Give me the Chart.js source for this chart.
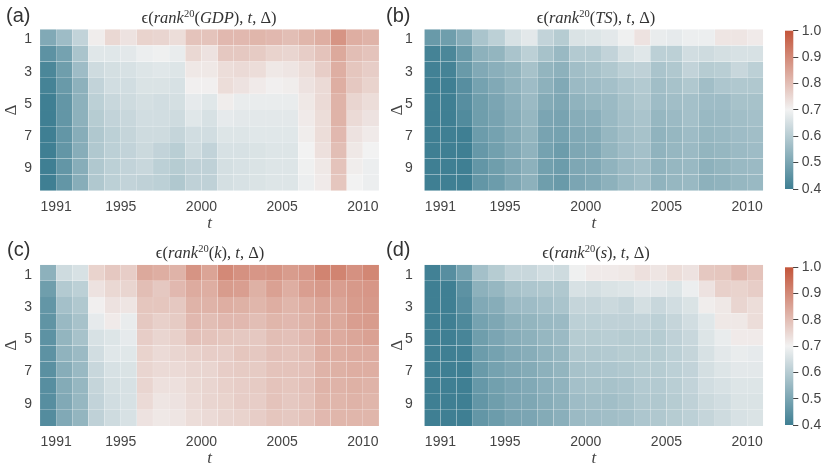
<!DOCTYPE html>
<html><head><meta charset="utf-8">
<script src="https://cdn.jsdelivr.net/npm/chart.js@4.4.0/dist/chart.umd.min.js"></script>
<style>
html,body{margin:0;padding:0;background:#fff;}
body{width:826px;height:467px;position:relative;overflow:hidden;font-family:"Liberation Sans",Arial,sans-serif;color:#262626;}
canvas{position:absolute;display:block;}
.lbl{position:absolute;font-size:20px;line-height:20px;color:#333;}
.ttl{position:absolute;font-family:"Liberation Serif","DejaVu Serif",serif;font-size:16.5px;line-height:16px;white-space:nowrap;transform:translateX(-50%);color:#333;}
.ttl i{font-style:italic;}
.ttl sup{font-size:10.5px;line-height:0;vertical-align:0;position:relative;top:-6px;}
</style></head><body>
<canvas id="cA" width="400" height="233" style="left:0;top:0"></canvas>
<canvas id="cB" width="400" height="233" style="left:384px;top:0"></canvas>
<canvas id="cC" width="400" height="234" style="left:0;top:233px"></canvas>
<canvas id="cD" width="400" height="234" style="left:384px;top:233px"></canvas>
<canvas id="cbTop" width="56" height="233" style="left:770px;top:0"></canvas>
<canvas id="cbBot" width="56" height="234" style="left:770px;top:233px"></canvas>

<div class="lbl" style="left:6px;top:5px">(a)</div>
<div class="lbl" style="left:386px;top:5px">(b)</div>
<div class="lbl" style="left:7px;top:239px">(c)</div>
<div class="lbl" style="left:386px;top:239px">(d)</div>

<div class="ttl" style="left:209px;top:9.5px">ϵ(<i>rank</i><sup>20</sup>(<i>GDP</i>), <i>t</i>, Δ)</div>
<div class="ttl" style="left:596px;top:9.5px">ϵ(<i>rank</i><sup>20</sup>(<i>TS</i>), <i>t</i>, Δ)</div>
<div class="ttl" style="left:210px;top:245px">ϵ(<i>rank</i><sup>20</sup>(<i>k</i>), <i>t</i>, Δ)</div>
<div class="ttl" style="left:596px;top:245px">ϵ(<i>rank</i><sup>20</sup>(<i>s</i>), <i>t</i>, Δ)</div>

<script>
// ---- data ----
const years = [1990,1991,1992,1993,1994,1995,1996,1997,1998,1999,2000,2001,2002,2003,2004,2005,2006,2007,2008,2009,2010];
const deltas = [1,2,3,4,5,6,7,8,9,10];
const xTickYears = [1991,1995,2000,2005,2010];
const yTickDeltas = [1,3,5,7,9];
const colorbarTicks = [0.4,0.5,0.6,0.7,0.8,0.9,1.0];

// rows = Δ 1..10, columns = years
const gdpValues = [
 [0.51,0.56,0.62,0.71,0.75,0.73,0.76,0.755,0.74,0.79,0.79,0.81,0.81,0.815,0.81,0.80,0.815,0.83,0.88,0.83,0.82],
 [0.45,0.49,0.58,0.67,0.67,0.675,0.69,0.695,0.685,0.75,0.73,0.78,0.78,0.775,0.76,0.755,0.77,0.79,0.84,0.80,0.79],
 [0.42,0.48,0.56,0.64,0.65,0.655,0.665,0.67,0.665,0.72,0.72,0.74,0.745,0.74,0.72,0.725,0.74,0.77,0.83,0.785,0.77],
 [0.41,0.47,0.53,0.62,0.645,0.645,0.66,0.66,0.655,0.705,0.705,0.74,0.73,0.715,0.705,0.71,0.73,0.745,0.83,0.78,0.76],
 [0.40,0.46,0.53,0.61,0.63,0.64,0.65,0.645,0.65,0.68,0.67,0.71,0.685,0.685,0.685,0.685,0.72,0.745,0.82,0.755,0.74],
 [0.40,0.46,0.53,0.60,0.62,0.63,0.645,0.645,0.64,0.67,0.655,0.68,0.675,0.675,0.675,0.675,0.715,0.74,0.82,0.745,0.73],
 [0.40,0.46,0.52,0.59,0.61,0.625,0.64,0.64,0.625,0.645,0.645,0.665,0.665,0.67,0.67,0.67,0.71,0.74,0.81,0.73,0.715],
 [0.40,0.46,0.52,0.59,0.61,0.62,0.635,0.62,0.605,0.64,0.62,0.655,0.655,0.66,0.665,0.665,0.70,0.735,0.80,0.72,0.70],
 [0.40,0.46,0.52,0.59,0.61,0.62,0.63,0.61,0.60,0.615,0.615,0.65,0.655,0.66,0.665,0.665,0.695,0.72,0.79,0.71,0.69],
 [0.40,0.46,0.52,0.59,0.61,0.62,0.615,0.61,0.59,0.615,0.615,0.65,0.655,0.66,0.665,0.665,0.69,0.715,0.785,0.70,0.69]
];
const tsValues = [
 [0.47,0.48,0.52,0.58,0.61,0.655,0.675,0.62,0.60,0.66,0.665,0.675,0.695,0.73,0.685,0.68,0.69,0.69,0.725,0.725,0.715],
 [0.41,0.42,0.47,0.53,0.54,0.58,0.61,0.575,0.55,0.595,0.595,0.62,0.655,0.67,0.61,0.61,0.645,0.64,0.65,0.655,0.655],
 [0.405,0.41,0.47,0.51,0.525,0.54,0.575,0.54,0.53,0.565,0.575,0.59,0.61,0.615,0.58,0.59,0.62,0.60,0.605,0.63,0.61],
 [0.40,0.40,0.44,0.49,0.51,0.535,0.56,0.53,0.51,0.555,0.56,0.57,0.585,0.595,0.565,0.575,0.59,0.565,0.585,0.59,0.59],
 [0.40,0.40,0.44,0.48,0.50,0.525,0.555,0.515,0.505,0.535,0.545,0.555,0.575,0.59,0.56,0.565,0.57,0.56,0.56,0.575,0.575],
 [0.40,0.40,0.43,0.48,0.495,0.52,0.545,0.50,0.495,0.52,0.525,0.55,0.57,0.58,0.545,0.555,0.57,0.55,0.555,0.565,0.57],
 [0.40,0.40,0.40,0.475,0.49,0.515,0.54,0.495,0.49,0.51,0.515,0.545,0.565,0.575,0.535,0.545,0.56,0.545,0.55,0.56,0.565],
 [0.40,0.40,0.40,0.465,0.485,0.51,0.535,0.49,0.475,0.505,0.51,0.54,0.56,0.57,0.535,0.545,0.555,0.54,0.545,0.555,0.56],
 [0.40,0.40,0.40,0.46,0.48,0.505,0.53,0.485,0.475,0.505,0.51,0.535,0.555,0.565,0.535,0.545,0.55,0.53,0.54,0.55,0.555],
 [0.40,0.40,0.40,0.46,0.475,0.505,0.53,0.48,0.47,0.50,0.51,0.53,0.55,0.565,0.535,0.545,0.55,0.53,0.535,0.545,0.55]
];
const kValues = [
 [0.53,0.64,0.655,0.76,0.78,0.77,0.84,0.83,0.82,0.88,0.85,0.90,0.885,0.875,0.88,0.865,0.875,0.91,0.91,0.885,0.905],
 [0.48,0.595,0.61,0.73,0.75,0.755,0.80,0.78,0.81,0.835,0.83,0.865,0.86,0.825,0.855,0.83,0.86,0.87,0.86,0.87,0.875],
 [0.46,0.57,0.59,0.705,0.73,0.725,0.785,0.785,0.78,0.82,0.82,0.83,0.825,0.815,0.83,0.815,0.83,0.845,0.845,0.865,0.87],
 [0.455,0.55,0.575,0.68,0.715,0.685,0.78,0.765,0.775,0.81,0.80,0.81,0.81,0.80,0.815,0.81,0.82,0.84,0.84,0.86,0.865],
 [0.45,0.54,0.575,0.655,0.665,0.68,0.77,0.755,0.765,0.795,0.79,0.785,0.78,0.78,0.80,0.795,0.81,0.835,0.835,0.845,0.855],
 [0.45,0.535,0.555,0.645,0.67,0.67,0.76,0.745,0.755,0.765,0.77,0.77,0.785,0.78,0.795,0.79,0.80,0.83,0.83,0.835,0.835],
 [0.445,0.52,0.55,0.63,0.655,0.66,0.755,0.745,0.745,0.755,0.755,0.77,0.775,0.775,0.79,0.79,0.795,0.82,0.825,0.83,0.83],
 [0.44,0.515,0.545,0.625,0.65,0.655,0.755,0.735,0.735,0.75,0.755,0.765,0.77,0.775,0.79,0.785,0.795,0.82,0.82,0.825,0.82],
 [0.44,0.51,0.545,0.62,0.645,0.655,0.745,0.725,0.73,0.745,0.755,0.76,0.77,0.77,0.79,0.78,0.79,0.815,0.815,0.82,0.815],
 [0.435,0.51,0.54,0.615,0.64,0.655,0.73,0.72,0.725,0.74,0.745,0.755,0.76,0.77,0.785,0.78,0.79,0.81,0.815,0.815,0.815]
];
const sValues = [
 [0.405,0.44,0.49,0.57,0.60,0.63,0.63,0.645,0.64,0.695,0.715,0.715,0.72,0.735,0.725,0.74,0.73,0.78,0.785,0.81,0.79],
 [0.40,0.40,0.45,0.53,0.545,0.575,0.585,0.59,0.59,0.655,0.65,0.66,0.665,0.675,0.675,0.665,0.69,0.73,0.765,0.76,0.77],
 [0.40,0.40,0.44,0.51,0.52,0.555,0.56,0.57,0.58,0.625,0.625,0.635,0.625,0.65,0.63,0.645,0.66,0.71,0.72,0.755,0.74],
 [0.40,0.40,0.425,0.49,0.505,0.53,0.54,0.55,0.555,0.61,0.61,0.615,0.615,0.62,0.61,0.625,0.645,0.67,0.72,0.72,0.74],
 [0.40,0.40,0.415,0.48,0.50,0.52,0.53,0.545,0.555,0.60,0.60,0.605,0.60,0.605,0.60,0.615,0.63,0.665,0.685,0.715,0.715],
 [0.40,0.40,0.405,0.475,0.49,0.51,0.52,0.535,0.545,0.59,0.59,0.595,0.60,0.60,0.60,0.61,0.625,0.655,0.675,0.685,0.68],
 [0.40,0.40,0.40,0.47,0.49,0.505,0.515,0.53,0.54,0.575,0.58,0.585,0.59,0.60,0.60,0.61,0.62,0.65,0.665,0.675,0.675],
 [0.40,0.40,0.40,0.465,0.485,0.50,0.51,0.525,0.535,0.57,0.575,0.575,0.58,0.595,0.595,0.605,0.62,0.645,0.655,0.665,0.665],
 [0.40,0.40,0.40,0.46,0.48,0.50,0.505,0.52,0.53,0.56,0.565,0.565,0.575,0.59,0.59,0.60,0.615,0.635,0.645,0.66,0.66],
 [0.40,0.40,0.40,0.46,0.475,0.495,0.50,0.515,0.525,0.555,0.56,0.565,0.57,0.585,0.59,0.60,0.61,0.625,0.64,0.655,0.66]
];

// ---- colour map (blue - light grey - red, diverging) ----
const vmin = 0.4, vmax = 1.0;
const cLow = [63,127,147], cMid = [242,242,242], cHigh = [195,85,58];
function mix(a, b, u) { return a.map((c, i) => Math.round(c + (b[i] - c) * u)); }
function cmap(v) {
  let t = Math.max(0, Math.min(1, (v - vmin) / (vmax - vmin)));
  const c = t < 0.5 ? mix(cLow, cMid, t / 0.5) : mix(cMid, cHigh, (t - 0.5) / 0.5);
  return `rgb(${c[0]},${c[1]},${c[2]})`;
}

Chart.defaults.font.family = '"Liberation Sans", Arial, sans-serif';
Chart.defaults.color = '#444';
const serif = '"Liberation Serif","DejaVu Serif",serif';
const txt = '#444';

function heatmap(id, values, o) {
  const datasets = deltas.map((d, r) => ({
    label: 'Δ=' + d,
    data: years.map((yr, i) => ({ x: i + 0.5, y: [r, r + 1] })),
    backgroundColor: values[r].map(cmap),
    borderWidth: 0.4,
    borderColor: 'rgba(255,255,255,0.12)',
    borderSkipped: false,
    barPercentage: 1,
    categoryPercentage: 1,
    grouped: false
  }));
  return new Chart(document.getElementById(id), {
    type: 'bar',
    data: { datasets },
    options: {
      responsive: false,
      animation: false,
      layout: { padding: { left: 0, top: o.top, right: o.right, bottom: 0 } },
      plugins: { legend: { display: false }, tooltip: { enabled: false } },
      scales: {
        x: {
          type: 'linear', min: 0, max: years.length, offset: false,
          grid: { display: false, drawTicks: false, offset: false },
          border: { display: false },
          afterBuildTicks: s => { s.ticks = xTickYears.map(y => ({ value: years.indexOf(y) })); },
          ticks: { autoSkip: false, maxRotation: 0, minRotation: 0, padding: 7.6, color: txt, font: { size: 14 },
                   callback: v => String(years[v]) },
          title: { display: true, text: 't', color: txt, font: { family: serif, style: 'italic', size: 17, lineHeight: 1 },
                   padding: { top: 0, bottom: o.tb } },
          afterFit: s => { s.height = o.xh; }
        },
        y: {
          type: 'linear', min: 0, max: deltas.length, reverse: true,
          grid: { display: false, drawTicks: false },
          border: { display: false },
          afterBuildTicks: s => { s.ticks = yTickDeltas.map(d => ({ value: deltas.indexOf(d) + 0.5 })); },
          ticks: { autoSkip: false, padding: o.ypad, labelOffset: 2, color: txt, font: { size: 14 },
                   callback: v => String(deltas[Math.floor(v)]) },
          title: { display: true, text: 'Δ', color: txt, font: { family: serif, size: 17, lineHeight: 1 },
                   padding: { top: o.tp, bottom: 0 } },
          afterFit: s => { s.width = o.yw; }
        }
      }
    }
  });
}

heatmap('cA', gdpValues, { top: 29.3, right: 21,   xh: 42.3, yw: 40,   ypad: 8,    tp: 3.3, tb: 0.5 });
heatmap('cB', tsValues,  { top: 29.3, right: 20.7, xh: 42.3, yw: 40.3, ypad: 11.5, tp: 5.5, tb: 0.5 });
heatmap('cC', kValues,   { top: 31.7, right: 21,   xh: 41,   yw: 40,   ypad: 8,    tp: 3.3, tb: 0 });
heatmap('cD', sValues,   { top: 31.7, right: 20.7, xh: 41,   yw: 40.3, ypad: 11.5, tp: 5.5, tb: 0 });

const gradientPlugin = {
  id: 'cbGradient',
  beforeDatasetsDraw(chart) {
    const { ctx, chartArea: a, scales: { y } } = chart;
    const g = ctx.createLinearGradient(0, y.getPixelForValue(vmin), 0, y.getPixelForValue(vmax));
    g.addColorStop(0, cmap(vmin));
    g.addColorStop(0.5, cmap((vmin + vmax) / 2));
    g.addColorStop(1, cmap(vmax));
    ctx.save();
    ctx.fillStyle = g;
    ctx.fillRect(a.left, a.top, a.right - a.left, a.bottom - a.top);
    ctx.restore();
  }
};

function colorbar(id, top, bottom, h) {
  return new Chart(document.getElementById(id), {
    type: 'bar',
    data: { labels: [''], datasets: [] },
    plugins: [gradientPlugin],
    options: {
      responsive: false, animation: false,
      layout: { padding: { left: 15, top: top, right: 0, bottom: h - bottom } },
      plugins: { legend: { display: false }, tooltip: { enabled: false } },
      scales: {
        x: { display: false },
        y: {
          position: 'right', min: vmin, max: vmax,
          grid: { display: true, drawOnChartArea: false, drawTicks: true, tickLength: 5, color: '#444', lineWidth: 1 },
          border: { display: false },
          afterBuildTicks: s => { s.ticks = colorbarTicks.map(v => ({ value: v })); },
          ticks: { padding: 3.5, color: txt, font: { size: 14 }, callback: v => v.toFixed(1) },
          afterFit: s => { s.width = 56 - 15 - 8.3; }
        }
      }
    }
  });
}
colorbar('cbTop', 30.7, 189, 233);
colorbar('cbBot', 34.3, 192, 234);
</script>
</body></html>
